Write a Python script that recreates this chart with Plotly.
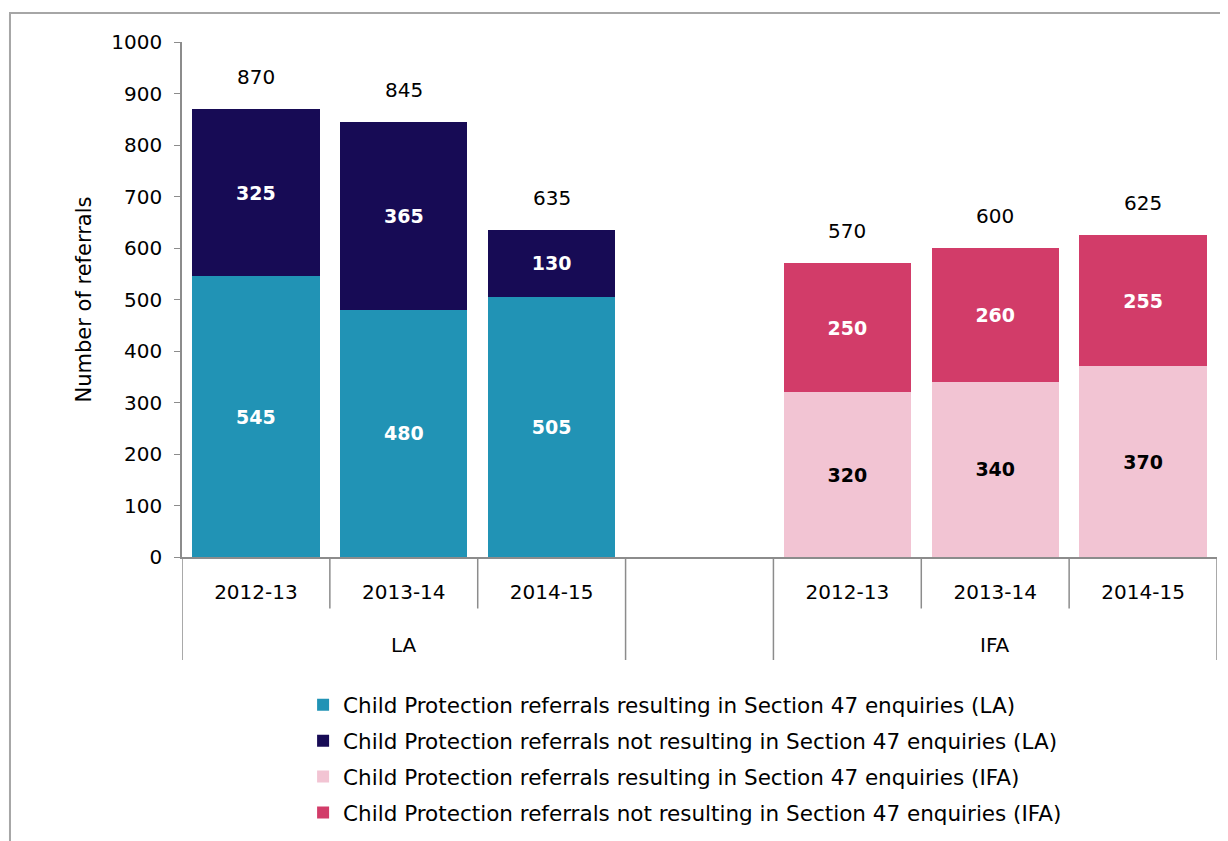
import plotly.graph_objects as go

years = ["2012-13", "2013-14", "2014-15"]
groups = ["LA", "IFA"]
la_s47 = [545, 480, 505]
la_not = [325, 365, 130]
ifa_s47 = [320, 340, 370]
ifa_not = [250, 260, 255]
y_ticks = [0, 100, 200, 300, 400, 500, 600, 700, 800, 900, 1000]

names = [
    "Child Protection referrals resulting in Section 47 enquiries (LA)",
    "Child Protection referrals not resulting in Section 47 enquiries (LA)",
    "Child Protection referrals resulting in Section 47 enquiries (IFA)",
    "Child Protection referrals not resulting in Section 47 enquiries (IFA)",
]
colors = ["#2193B5", "#170B55", "#F2C4D3", "#D23C69"]

FONT = "DejaVu Sans"
la_x = [0, 1, 2]
ifa_x = [4, 5, 6]
BW = 0.86

fig = go.Figure()
series = [
    (la_x, la_s47, names[0], colors[0], "white", "g1"),
    (la_x, la_not, names[1], colors[1], "white", "g2"),
    (ifa_x, ifa_s47, names[2], colors[2], "black", "g3"),
    (ifa_x, ifa_not, names[3], colors[3], "white", "g4"),
]
for xs, vals, nm, col, tcol, grp in series:
    fig.add_trace(go.Bar(
        x=xs, y=vals, name=nm, marker=dict(color=col, line=dict(width=0)),
        width=BW, text=[str(v) for v in vals], textposition="inside",
        insidetextanchor="middle", textangle=0,
        textfont=dict(family=FONT, size=19, color=tcol, weight="bold"),
        legendgroup=grp, hoverinfo="skip",
    ))

# totals above bars
for xs, a, b in [(la_x, la_s47, la_not), (ifa_x, ifa_s47, ifa_not)]:
    for x, s, n in zip(xs, a, b):
        fig.add_annotation(x=x, y=s + n, text=str(s + n), showarrow=False,
                           yshift=32, font=dict(family=FONT, size=20, color="black"))

# group labels
for gx, g in zip([1, 5], groups):
    fig.add_annotation(x=gx, y=-0.171, yref="paper", yanchor="middle", text=g,
                       showarrow=False, font=dict(family=FONT, size=20, color="black"))

# category dividers
axis_col = "#8C8C8C"
for xb in [-0.5, 2.5, 3.5, 6.5]:
    fig.add_shape(type="line", xref="x", yref="paper", x0=xb, x1=xb, y0=0, y1=-0.2,
                  line=dict(color=axis_col, width=1.5))
for xb in [0.5, 1.5, 4.5, 5.5]:
    fig.add_shape(type="line", xref="x", yref="paper", x0=xb, x1=xb, y0=0, y1=-0.1,
                  line=dict(color=axis_col, width=1.5))

# outer frame
fig.add_shape(type="rect", xref="paper", yref="paper", x0=-0.1662, x1=1.05, y0=-0.6, y1=1.0563,
              line=dict(color="#A6A6A6", width=2), fillcolor="rgba(0,0,0,0)", layer="below")

fig.update_layout(
    width=1220, height=833,
    margin=dict(l=174, r=11, t=34, b=284, autoexpand=False),
    paper_bgcolor="white", plot_bgcolor="white",
    barmode="stack",
    showlegend=True,
    legend=dict(x=0.117, y=-0.247, xanchor="left", yanchor="top",
                orientation="v", traceorder="grouped", tracegroupgap=5,
                font=dict(family=FONT, size=21.5, color="black"),
                itemwidth=30, bgcolor="rgba(0,0,0,0)"),
    font=dict(family=FONT, size=20, color="black"),
    xaxis=dict(range=[-0.5, 6.5], tickvals=la_x + ifa_x, ticktext=years + years,
               showgrid=False, zeroline=False, showline=True, linecolor=axis_col,
               linewidth=1.5, ticks="", ticklabelstandoff=16,
               tickfont=dict(family=FONT, size=20, color="black")),
    yaxis=dict(range=[0, 1000], tickvals=y_ticks, showgrid=False, zeroline=False,
               showline=True, linecolor=axis_col, linewidth=1.5, ticks="outside",
               ticklen=6, tickcolor=axis_col, ticklabelstandoff=8,
               tickfont=dict(family=FONT, size=20, color="black")),
)
fig.update_yaxes(title=dict(text="Number of referrals", standoff=14,
                            font=dict(family=FONT, size=21, color="black")))

fig.write_html("out.html")
